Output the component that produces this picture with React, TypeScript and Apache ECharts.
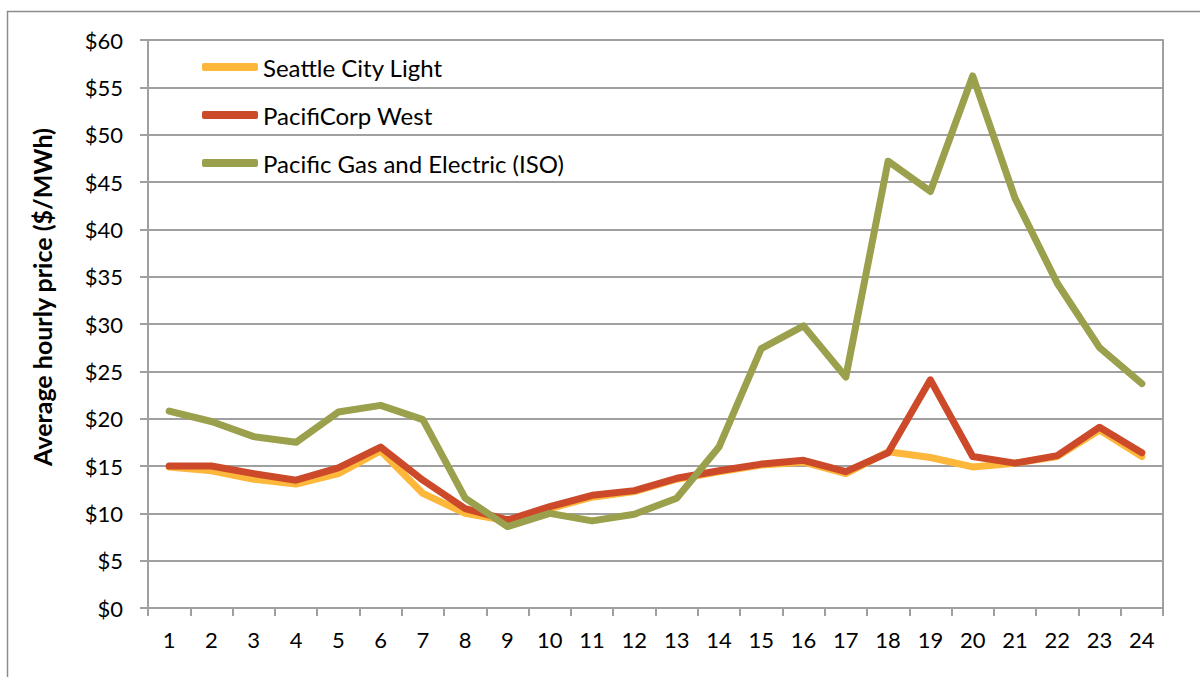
import React, { useEffect, useRef } from "react";
import * as echarts from "echarts";

const hours = ["1","2","3","4","5","6","7","8","9","10","11","12","13","14","15","16","17","18","19","20","21","22","23","24"];
const seattle = [14.9,14.5,13.6,13.1,14.2,16.6,12.1,10.0,9.2,10.5,11.7,12.3,13.6,14.4,15.1,15.4,14.2,16.5,15.9,14.9,15.3,16.0,18.8,16.0];
const pacificorp = [15.0,15.0,14.2,13.5,14.8,17.0,13.5,10.5,9.3,10.7,11.9,12.4,13.7,14.5,15.2,15.6,14.4,16.4,24.1,16.0,15.3,16.1,19.1,16.4];
const pge = [20.8,19.7,18.1,17.5,20.7,21.4,19.9,11.6,8.6,10.0,9.2,9.9,11.6,17.0,27.4,29.8,24.4,47.2,44.0,56.2,43.3,34.3,27.5,23.7];
const seriesNames = ["Seattle City Light", "PacifiCorp West", "Pacific Gas and Electric (ISO)"];
const yTitle = "Average hourly price ($/MWh)";
const colors = ["#FDB73B", "#CC4A2A", "#9AA04B"];

export default function App() {
  const ref = useRef<HTMLDivElement>(null);
  useEffect(() => {
    if (!ref.current) return;
    const chart = echarts.init(ref.current, null, { renderer: "svg" });
    const font = "Lato, 'Open Sans', sans-serif";
    const grid = "#a0a0a0";
    const data = [seattle, pacificorp, pge];
    chart.setOption({
      animation: false,
      backgroundColor: "#ffffff",
      textStyle: { fontFamily: font },
      graphic: [
        {
          type: "rect",
          shape: { x: 7.5, y: 11.5, width: 1300, height: 800 },
          style: { fill: "none", stroke: "#8c8c8c", lineWidth: 1.5 },
          silent: true,
        },
        {
          type: "text",
          x: 42,
          y: 297,
          rotation: Math.PI / 2,
          style: {
            text: yTitle,
            fontSize: 25,
            fontWeight: "bold",
            fontFamily: font,
            fill: "#000",
            align: "center",
            verticalAlign: "middle",
          },
          silent: true,
        },
      ],
      grid: { left: 148, right: 37, top: 40, bottom: 69 },
      legend: {
        orient: "vertical",
        left: 202,
        top: 53,
        padding: 0,
        icon: "roundRect",
        itemWidth: 56,
        itemHeight: 8,
        itemGap: 20,
        textStyle: { fontSize: 24, color: "#000", fontFamily: font, lineHeight: 28 },
        data: seriesNames,
      },
      xAxis: {
        type: "category",
        data: hours,
        boundaryGap: true,
        axisLine: { show: true, lineStyle: { color: grid, width: 2 } },
        axisTick: { show: true, length: 8, lineStyle: { color: grid, width: 2 } },
        axisLabel: { fontSize: 22, color: "#000", margin: 20, fontFamily: font },
        splitLine: { show: false },
      },
      yAxis: [
        {
          type: "value",
          min: 0,
          max: 60,
          interval: 5,
          axisLine: { show: true, lineStyle: { color: grid, width: 2 } },
          axisTick: { show: true, length: 8, lineStyle: { color: grid, width: 2 } },
          axisLabel: { fontSize: 22, color: "#000", margin: 25, formatter: "${value}", fontFamily: font },
          splitLine: { show: true, lineStyle: { color: grid, width: 2 } },
        },
        {
          type: "value",
          min: 0,
          max: 60,
          interval: 5,
          position: "right",
          axisLine: { show: true, lineStyle: { color: grid, width: 2 } },
          axisTick: { show: false },
          axisLabel: { show: false },
          splitLine: { show: false },
        },
      ],
      series: seriesNames.map((name, i) => ({
        name,
        type: "line",
        data: data[i],
        symbol: "none",
        color: colors[i],
        lineStyle: { color: colors[i], width: 7, join: "round", cap: "round" },
        z: 2 + i,
      })),
    });
    return () => chart.dispose();
  }, []);
  return <div ref={ref} style={{ position: "absolute", left: 0, top: 0, width: 1200, height: 677 }} />;
}
